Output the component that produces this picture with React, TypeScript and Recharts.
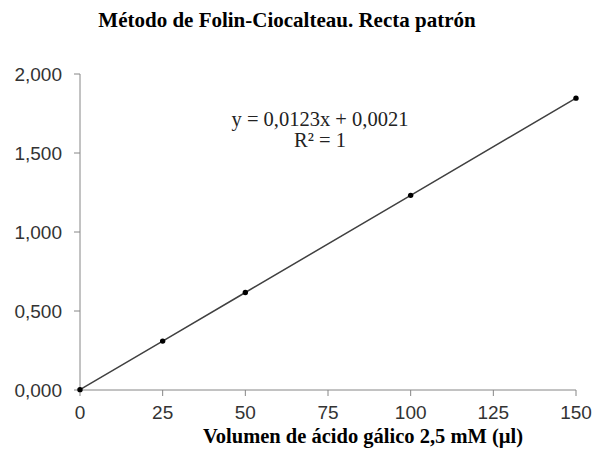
import { LineChart, Line, XAxis, YAxis } from "recharts";

// volumen de ácido gálico (µl) y absorbancia
const volumes = [0, 25, 50, 100, 150];
const absorbance = [0.0021, 0.3096, 0.6171, 1.2321, 1.8471];
const xTicks = [0, 25, 50, 75, 100, 125, 150];
const yTicks = [0, 0.5, 1, 1.5, 2];

const title = "Método de Folin-Ciocalteau. Recta patrón";
const xTitle = "Volumen de ácido gálico 2,5 mM (µl)";
const equation = "y = 0,0123x + 0,0021";
const rSquared = "R² = 1";

const data = volumes.map((v, i) => ({ x: v, y: absorbance[i] }));

const serif = "'Liberation Serif', 'Times New Roman', serif";
const sans = "'Liberation Sans', Arial, sans-serif";
const axisColor = "#868686";

export default function App() {
    return (
        <div style={{ position: "absolute", left: 0, top: 0, width: 598, height: 453, background: "#fff" }}>
            <LineChart
                width={598}
                height={453}
                data={data}
                margin={{ top: 74, right: 22, left: 0, bottom: 23 }}
            >
                <XAxis
                    dataKey="x"
                    type="number"
                    domain={[0, 150]}
                    ticks={xTicks}
                    height={40}
                    tickSize={6}
                    tickMargin={10}
                    stroke={axisColor}
                    tick={{ fill: "#333", fontSize: 19, fontFamily: sans }}
                />
                <YAxis
                    type="number"
                    domain={[0, 2]}
                    ticks={yTicks}
                    width={80}
                    tickSize={6}
                    tickMargin={12}
                    stroke={axisColor}
                    tickFormatter={(v: number) => v.toFixed(3).replace(".", ",")}
                    tick={{ fill: "#333", fontSize: 19, fontFamily: sans }}
                />
                <Line
                    dataKey="y"
                    stroke="#404040"
                    strokeWidth={1.5}
                    dot={{ r: 2.7, fill: "#000", stroke: "#000", strokeWidth: 0 }}
                    isAnimationActive={false}
                />
            </LineChart>
            <div style={{ position: "absolute", left: 0, width: 574, top: 8, textAlign: "center", fontFamily: serif, fontWeight: "bold", fontSize: 21, lineHeight: "24px", color: "#000" }}>
                {title}
            </div>
            <div style={{ position: "absolute", left: 0, width: 726, top: 425, textAlign: "center", fontFamily: serif, fontWeight: "bold", fontSize: 20.5, lineHeight: "23px", color: "#000" }}>
                {xTitle}
            </div>
            <div style={{ position: "absolute", left: 200, width: 240, top: 109, textAlign: "center", fontFamily: serif, fontSize: 20.5, lineHeight: "21px", color: "#222" }}>
                <div>{equation}</div>
                <div>{rSquared}</div>
            </div>
        </div>
    );
}
